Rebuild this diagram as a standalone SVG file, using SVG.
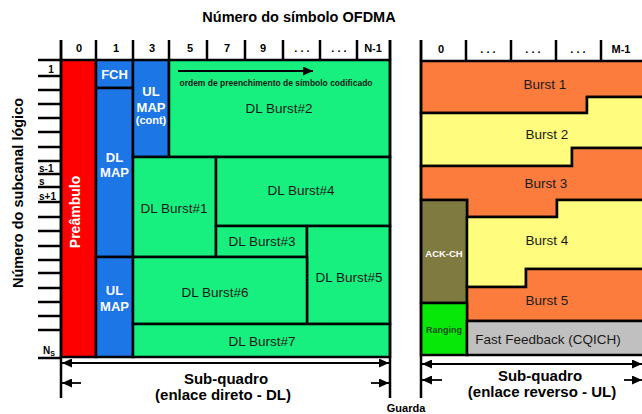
<svg xmlns="http://www.w3.org/2000/svg" width="642" height="414" viewBox="0 0 642 414">
<defs>
<marker id="ah" markerUnits="userSpaceOnUse" markerWidth="10" markerHeight="9" refX="10" refY="4.5" orient="auto-start-reverse"><path d="M0,0 L10,4.5 L0,9 Z" fill="#000"/></marker>
<style>
text{font-family:"Liberation Sans",Arial,sans-serif;}
.b{font-weight:bold;}
.blk{stroke:#000;stroke-width:2.5;}
.tick{stroke:#000;stroke-width:2.5;}
.red{fill:#FF0000;}
.blue{fill:#1C76E6;}
.grn{fill:#17F07E;}
.org{fill:#FB7C3C;}
.yel{fill:#FFFC7E;}
.olv{fill:#7F7A40;}
.rng{fill:#08E808;}
.gry{fill:#C0C0C0;}
.lbl{font-size:13.5px;fill:#1a1a1a;text-anchor:middle;}
.wt{fill:#fff;font-weight:bold;text-anchor:middle;}
.col{font-size:11px;font-weight:bold;text-anchor:middle;fill:#000;}
.dim{stroke:#000;stroke-width:1.8;fill:none;}
</style>
</defs>
<rect width="642" height="414" fill="#fff"/>

<text x="299" y="22" class="b" font-size="14.5" text-anchor="middle">Número do símbolo OFDMA</text>
<text transform="translate(23,193) rotate(-90)" class="b" font-size="14.5" text-anchor="middle">Número do subcanal lógico</text>

<g id="axis-columns-dl">
<g class="tick">
<line x1="61" y1="40" x2="61" y2="60"/><line x1="96" y1="40" x2="96" y2="60"/><line x1="133" y1="40" x2="133" y2="60"/>
<line x1="169" y1="40" x2="169" y2="60"/><line x1="207" y1="40" x2="207" y2="60"/><line x1="245" y1="40" x2="245" y2="60"/>
<line x1="283" y1="40" x2="283" y2="60"/><line x1="320" y1="40" x2="320" y2="60"/><line x1="357" y1="40" x2="357" y2="60"/>
<line x1="390" y1="40" x2="390" y2="60"/>
</g>
<text class="col" x="79" y="52">0</text><text class="col" x="116" y="52">1</text><text class="col" x="152" y="52">3</text>
<text class="col" x="190" y="52">5</text><text class="col" x="227" y="52">7</text><text class="col" x="263" y="52">9</text>
<text class="col" x="302" y="52">. . .</text><text class="col" x="339" y="52">. . .</text><text class="col" x="373" y="52">N-1</text>
</g>

<g id="axis-columns-ul">
<g class="tick">
<line x1="421" y1="40" x2="421" y2="61"/><line x1="466" y1="40" x2="466" y2="61"/><line x1="511" y1="40" x2="511" y2="61"/>
<line x1="556" y1="40" x2="556" y2="61"/><line x1="601" y1="40" x2="601" y2="61"/>
</g>
<text class="col" x="441" y="53">0</text><text class="col" x="488" y="53">. . .</text><text class="col" x="533" y="53">. . .</text>
<text class="col" x="578" y="53">. . .</text><text class="col" x="621" y="53">M-1</text>
</g>

<g id="axis-subchannels">
<g class="tick">
<line x1="38" y1="60" x2="61" y2="60"/><line x1="38" y1="76" x2="61" y2="76"/><line x1="38" y1="90" x2="61" y2="90"/>
<line x1="38" y1="104" x2="61" y2="104"/><line x1="38" y1="118" x2="61" y2="118"/><line x1="38" y1="132" x2="61" y2="132"/>
<line x1="38" y1="147" x2="61" y2="147"/><line x1="38" y1="161" x2="61" y2="161"/><line x1="38" y1="174" x2="61" y2="174"/>
<line x1="38" y1="187" x2="61" y2="187"/><line x1="38" y1="202" x2="61" y2="202"/><line x1="38" y1="217" x2="61" y2="217"/>
<line x1="38" y1="231" x2="61" y2="231"/><line x1="38" y1="246" x2="61" y2="246"/><line x1="38" y1="260" x2="61" y2="260"/>
<line x1="38" y1="273" x2="61" y2="273"/><line x1="38" y1="288" x2="61" y2="288"/><line x1="38" y1="302" x2="61" y2="302"/>
<line x1="38" y1="316" x2="61" y2="316"/><line x1="38" y1="330" x2="61" y2="330"/><line x1="38" y1="358" x2="61" y2="358"/>
</g>
<text x="51" y="73" class="b" font-size="10" text-anchor="middle">1</text>
<text x="39" y="172" class="b" font-size="10">s-1</text>
<text x="39" y="185" class="b" font-size="10">s</text>
<text x="39" y="200" class="b" font-size="10">s+1</text>
<text x="43" y="354" class="b" font-size="10">N<tspan font-size="7" dy="2">S</tspan></text>
</g>

<g id="preambulo">
<rect x="61" y="60" width="35" height="297" class="red blk"/>
<text transform="translate(80,212) rotate(-90)" class="wt" font-size="14">Preâmbulo</text>
</g>
<g id="fch">
<rect x="96" y="60" width="37" height="28" class="blue blk"/>
<text x="114.5" y="79" class="wt" font-size="13">FCH</text>
</g>
<g id="dl-map">
<rect x="96" y="88" width="37" height="169" class="blue blk"/>
<text x="114.5" y="162" class="wt" font-size="13">DL</text>
<text x="114.5" y="177" class="wt" font-size="13">MAP</text>
</g>
<g id="ul-map">
<rect x="96" y="257" width="37" height="100" class="blue blk"/>
<text x="114.5" y="295" class="wt" font-size="13">UL</text>
<text x="114.5" y="311" class="wt" font-size="13">MAP</text>
</g>
<g id="ul-map-cont">
<rect x="133" y="60" width="36" height="97" class="blue blk"/>
<text x="151" y="96" class="wt" font-size="13">UL</text>
<text x="151" y="112" class="wt" font-size="13">MAP</text>
<text x="151" y="124" class="wt" font-size="11">(cont)</text>
</g>
<g id="dl-burst-2">
<rect x="169" y="60" width="221" height="97" class="grn blk"/>
<text x="276" y="86" font-size="8.5" class="b" fill="#1a1a1a" text-anchor="middle" textLength="193" lengthAdjust="spacingAndGlyphs">ordem de preenchimento de símbolo codificado</text>
<text x="279" y="113" class="lbl">DL Burst#2</text>
</g>
<g id="dl-burst-1">
<rect x="133" y="157" width="83" height="100" class="grn blk"/>
<text x="174" y="213" class="lbl">DL Burst#1</text>
</g>
<g id="dl-burst-4">
<rect x="216" y="157" width="174" height="69" class="grn blk"/>
<text x="301" y="195" class="lbl">DL Burst#4</text>
</g>
<g id="dl-burst-3">
<rect x="216" y="226" width="91" height="31" class="grn blk"/>
<text x="262" y="246" class="lbl">DL Burst#3</text>
</g>
<g id="dl-burst-5">
<rect x="307" y="226" width="83" height="98" class="grn blk"/>
<text x="349" y="282" class="lbl">DL Burst#5</text>
</g>
<g id="dl-burst-6">
<rect x="133" y="257" width="174" height="67" class="grn blk"/>
<text x="215" y="297" class="lbl">DL Burst#6</text>
</g>
<g id="dl-burst-7">
<rect x="133" y="324" width="257" height="33" class="grn blk"/>
<text x="262" y="346" class="lbl">DL Burst#7</text>
</g>

<g id="burst-1">
<path d="M421,61 H646 V97 H587 V113 H421 Z" class="org blk"/>
<text x="545" y="89" class="lbl">Burst 1</text>
</g>
<g id="burst-2">
<path d="M421,113 H587 V97 H646 V148 H572 V166 H421 Z" class="yel blk"/>
<text x="547" y="139" class="lbl">Burst 2</text>
</g>
<g id="burst-3">
<path d="M421,166 H572 V148 H646 V200 H557 V217 H467 V200 H421 Z" class="org blk"/>
<text x="546" y="188" class="lbl">Burst 3</text>
</g>
<g id="ack-ch">
<rect x="421" y="200" width="46" height="103" class="olv blk"/>
<text x="444" y="257" class="wt" font-size="9.5">ACK-CH</text>
</g>
<g id="burst-4">
<path d="M467,217 H557 V200 H646 V269 H526 V287 H467 Z" class="yel blk"/>
<text x="547" y="245" class="lbl">Burst 4</text>
</g>
<g id="burst-5">
<path d="M467,287 H526 V269 H646 V321 H467 Z" class="org blk"/>
<text x="547" y="305" class="lbl">Burst 5</text>
</g>
<g id="ranging">
<rect x="421" y="303" width="46" height="52" class="rng blk"/>
<text x="444" y="333" class="b" font-size="9" fill="#1f4d1f" text-anchor="middle">Ranging</text>
</g>
<g id="fast-feedback">
<rect x="467" y="321" width="179" height="34" class="gry blk"/>
<text x="548" y="344" class="lbl">Fast Feedback (CQICH)</text>
</g>

<g id="frame-lines" class="blk">
<line x1="61" y1="40" x2="61" y2="398"/>
<line x1="390" y1="40" x2="390" y2="398"/>
<line x1="421" y1="40" x2="421" y2="398"/>
</g>

<g id="connectors">
<line x1="178" y1="71" x2="313" y2="71" class="dim" stroke-width="2" marker-end="url(#ah)"/>
<line x1="62" y1="363" x2="389" y2="363" class="dim" marker-start="url(#ah)" marker-end="url(#ah)"/>
<line x1="81" y1="383" x2="62" y2="383" class="dim" marker-end="url(#ah)"/>
<line x1="371" y1="383" x2="389" y2="383" class="dim" marker-end="url(#ah)"/>
<line x1="422" y1="364" x2="642" y2="364" class="dim" marker-start="url(#ah)" marker-end="url(#ah)"/>
<line x1="442" y1="380" x2="422" y2="380" class="dim" marker-end="url(#ah)"/>
<line x1="624" y1="380" x2="642" y2="380" class="dim" marker-end="url(#ah)"/>
</g>

<text x="226" y="384" class="b" font-size="15" text-anchor="middle">Sub-quadro</text>
<text x="223" y="400" class="b" font-size="15" text-anchor="middle">(enlace direto - DL)</text>
<text x="540" y="381" class="b" font-size="15" text-anchor="middle">Sub-quadro</text>
<text x="542" y="397" class="b" font-size="15" text-anchor="middle">(enlace reverso - UL)</text>
<text x="406" y="412" class="b" font-size="11" text-anchor="middle">Guarda</text>
</svg>
